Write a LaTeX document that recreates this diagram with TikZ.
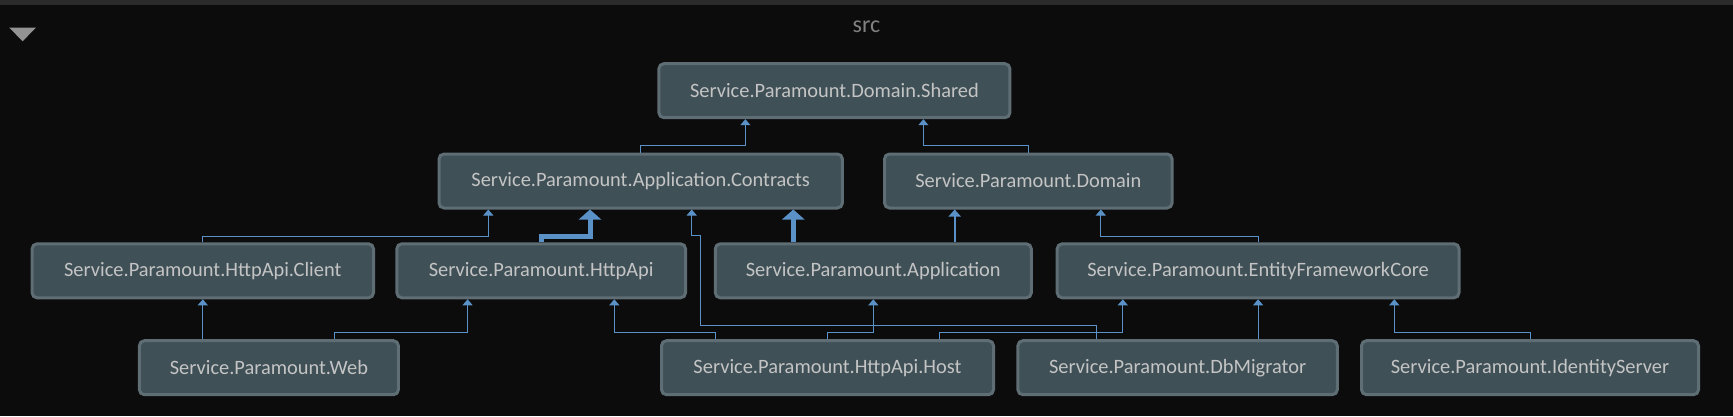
\documentclass[tikz,border=0pt]{standalone}
\usepackage{fontspec}
\setmainfont{Carlito}
\usetikzlibrary{arrows.meta}

\definecolor{fondo}{RGB}{12,12,12}
\definecolor{barra}{RGB}{43,43,43}
\definecolor{cajafill}{RGB}{63,80,87}
\definecolor{cajaborde}{RGB}{95,109,116}
\definecolor{cajatexto}{RGB}{196,196,196}
\definecolor{enlace}{RGB}{90,146,200}
\definecolor{gris}{RGB}{128,128,128}

\begin{document}
\begin{tikzpicture}[
      x=1pt, y=-1pt,
      block/.style={draw=cajaborde, fill=cajafill, line width=3pt, rounded corners=5pt,
                    minimum height=54pt, inner sep=0pt, text=cajatexto,
                    font=\fontsize{20.4}{24}\selectfont},
      dep/.style={draw=enlace, line width=1pt, -{Triangle[width=10pt,length=6pt]}},
      depmid/.style={draw=enlace, line width=2pt, -{Triangle[width=12pt,length=7pt]}},
      depthick/.style={draw=enlace, line width=5pt, -{Triangle[width=22pt,length=10pt]}}
    ]

    % Fondo y cabecera
    \fill[fondo] (0,0) rectangle (1733,416);
    \useasboundingbox (0,0) rectangle (1733,416);
    \fill[barra] (0,0) rectangle (1733,4.5);
    \fill[gris!85] (9.2,27.5) -- (36,27.5) -- (22.6,41.3) -- cycle;
    \node[text=gris, font=\fontsize{24}{28}\selectfont] (titulo) at (866.5,26.5) {src};

    % Nivel superior
    \node[block, minimum width=351pt] (shared) at (834.4,90.7) {Service.Paramount.Domain.Shared};

    % Segundo nivel
    \node[block, minimum width=403.4pt] (contracts) at (640.7,181) {Service.Paramount.Application.Contracts};
    \node[block, minimum width=287.6pt] (domain) at (1028.3,181) {Service.Paramount.Domain};

    % Tercer nivel
    \node[block, minimum width=341.4pt] (client) at (202.8,270.8) {Service.Paramount.HttpApi.Client};
    \node[block, minimum width=288.7pt] (httpapi) at (541.2,270.8) {Service.Paramount.HttpApi};
    \node[block, minimum width=316pt] (application) at (873.3,270.8) {Service.Paramount.Application};
    \node[block, minimum width=401.8pt] (efcore) at (1258.1,270.8) {Service.Paramount.EntityFrameworkCore};

    % Nivel inferior
    \node[block, minimum width=259pt] (web) at (268.9,367.7) {Service.Paramount.Web};
    \node[block, minimum width=332pt] (host) at (827.5,367.7) {Service.Paramount.HttpApi.Host};
    \node[block, minimum width=319.4pt] (dbmigrator) at (1177.6,367.7) {Service.Paramount.DbMigrator};
    \node[block, minimum width=337pt] (identity) at (1530,367.7) {Service.Paramount.IdentityServer};

    % Dependencias hacia Domain.Shared
    \draw[dep] (contracts.north) -- ++(0,-7) -| ([xshift=-89pt]shared.south);
    \draw[dep] (domain.north) -- ++(0,-7) -| ([xshift=89pt]shared.south);

    % Dependencias hacia Contracts y Domain
    \draw[dep] (client.north) -- ++(0,-6.3) -| ([xshift=-152.4pt]contracts.south);
    \draw[depthick] (httpapi.north) -- ++(0,-6.3) -| ([xshift=-50.7pt]contracts.south);
    \draw[depthick] ([xshift=-80pt]application.north) -- ([xshift=-80pt]application.north |- contracts.south);
    \draw[depmid] ([xshift=81.4pt]application.north) -- ([xshift=81.4pt]application.north |- domain.south);
    \draw[dep] (efcore.north) -- ++(0,-6.3) -| ([xshift=72.5pt]domain.south);
    \draw[dep] ([xshift=-81.2pt]dbmigrator.north) -- ++(0,-13.6)
      -| ([xshift=59.3pt,yshift=-25.7pt]contracts.south) -| ([xshift=51pt]contracts.south);

    % Dependencias del nivel inferior
    \draw[dep] (web.north -| client.south) -- (client.south);
    \draw[dep] ([xshift=65.9pt]web.north) -- ++(0,-7) -| ([xshift=-73.6pt]httpapi.south);
    \draw[dep] ([xshift=-112.2pt]host.north) -- ++(0,-7) -| ([xshift=73.1pt]httpapi.south);
    \draw[dep] (host.north) -- ++(0,-7) -| (application.south);
    \draw[dep] ([xshift=112.2pt]host.north) -- ++(0,-7) -| ([xshift=-135.3pt]efcore.south);
    \draw[dep] (dbmigrator.north -| efcore.south) -- (efcore.south);
    \draw[dep] (identity.north) -- ++(0,-7) -| ([xshift=136.2pt]efcore.south);

  \end{tikzpicture}
\end{document}
